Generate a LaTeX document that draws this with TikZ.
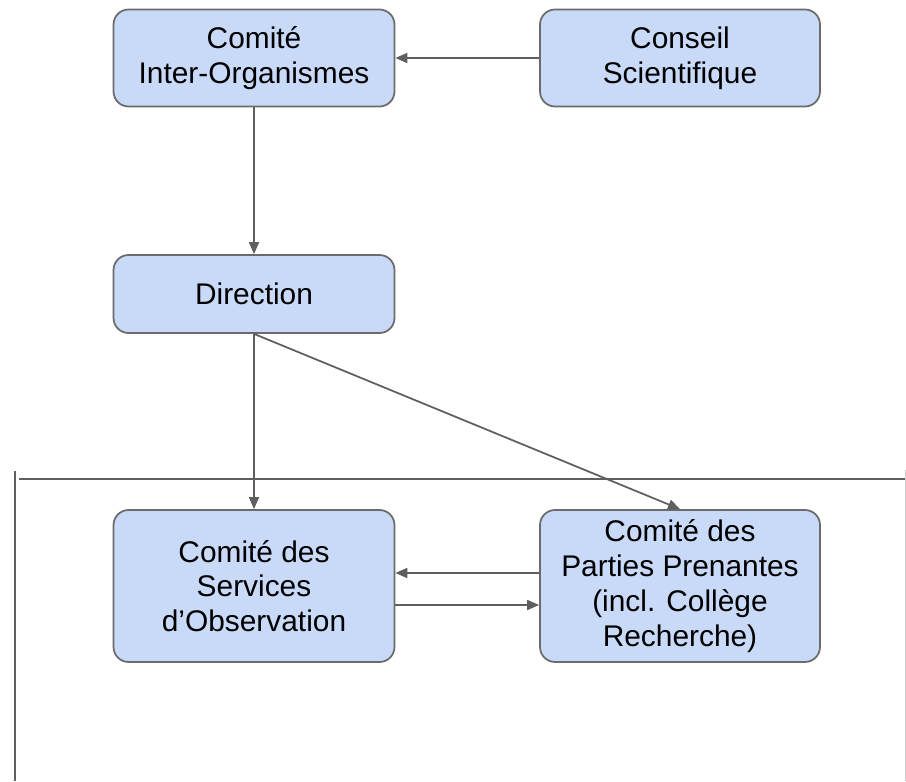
\documentclass[tikz,border=0pt]{standalone}
\usepackage{fontspec}
\setmainfont{Liberation Sans}
\usetikzlibrary{arrows.meta}
\definecolor{boxfill}{HTML}{C9DAF8}
\definecolor{boxline}{HTML}{6B6B6B}
\definecolor{arrowgray}{HTML}{5F5F5F}
\tikzset{
  orgbox/.style={draw=boxline, line width=1pt, fill=boxfill, rounded corners=0.3cm,
    minimum width=5.62cm, align=center, font=\fontsize{17}{19.8}\selectfont},
  link/.style={draw=arrowgray, line width=1pt, -{Triangle[length=0.24cm,width=0.2cm]}},
}
\begin{document}
\begin{tikzpicture}[x=0.02cm,y=-0.02cm]
\useasboundingbox (0,0) rectangle (906,781);

\node[orgbox, minimum height=1.94cm] (cio) at (254,58) {Comité\\Inter-Organismes};
\node[orgbox, minimum height=1.94cm, minimum width=5.6cm] (cs) at (680,58) {Conseil\\Scientifique};
\node[orgbox, minimum height=1.56cm] (dir) at (254,294) {Direction};
\node[orgbox, minimum height=3.04cm] (cso) at (254,586) {Comité des\\Services\\d’Observation};
\node[orgbox, minimum height=3.04cm, minimum width=5.6cm] (cpp) at (680,586) {Comité des\\Parties Prenantes\\(incl. Collège\\Recherche)};

\draw[link] (cs) -- (cio);
\draw[link] (cio) -- (dir);
\draw[link] (dir) -- (cso);
\draw[link] (dir.south) -- (cpp.north);
\draw[link] ([yshift=0.26cm]cpp.west) -- ([yshift=0.26cm]cso.east);
\draw[link] ([yshift=-0.38cm]cso.east) -- ([yshift=-0.38cm]cpp.west);

% frame
\draw[arrowgray, line width=1.5pt] (19,479) -- (906,479);
\draw[arrowgray, line width=1.5pt] (15,471) -- (15,781);
\draw[gray!40, line width=0.5pt] (905,470) -- (905,781);
\end{tikzpicture}
\end{document}
